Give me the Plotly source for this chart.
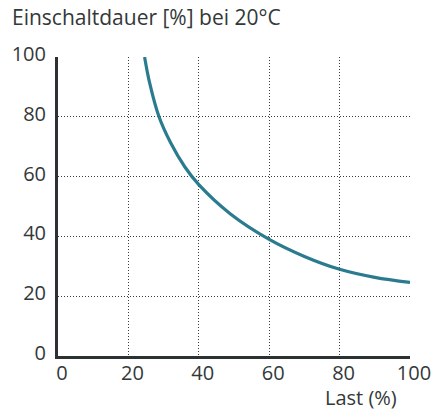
import plotly.graph_objects as go

# Duty cycle curve: load (%) vs. duty cycle (%) at 20 °C
last = [24.6, 26.0, 28.7, 32.0, 36.0, 40.0, 49.0, 60.0, 70.0, 80.0, 90.0, 100.0]
einschaltdauer = [100.0, 91.5, 80.0, 71.3, 63.3, 57.3, 47.5, 39.0, 33.3, 29.0, 26.3, 24.6]

x_ticks = [0, 20, 40, 60, 80, 100]
y_ticks = [0, 20, 40, 60, 80, 100]

font_family = "Open Sans, Noto Sans, sans-serif"
text_color = "#333838"
axis_color = "#2b3231"
grid_color = "#3a3a3a"
curve_color = "#2b7b8f"

fig = go.Figure()
fig.add_trace(go.Scatter(
    x=last, y=einschaltdauer, mode="lines",
    line=dict(color=curve_color, width=3.2, shape="spline", smoothing=1.0),
    hoverinfo="skip", showlegend=False,
))

axis_common = dict(
    range=[0, 100],
    showgrid=True, gridcolor=grid_color, gridwidth=1, griddash="1px,2px",
    zeroline=False,
    showline=True, linecolor=axis_color, linewidth=3,
    ticks="", tickfont=dict(family=font_family, size=20, color=text_color),
    fixedrange=True,
)

fig.update_xaxes(tickvals=x_ticks, ticktext=[str(v) for v in x_ticks],
                 ticklabelshift=4, ticklabelstandoff=-3, **axis_common)
fig.update_yaxes(tickvals=y_ticks, ticktext=[str(v) for v in y_ticks],
                 ticklabelshift=-3, ticklabelstandoff=5, **axis_common)

fig.update_layout(
    width=443, height=412,
    margin=dict(l=53, r=29, t=57, b=56),
    paper_bgcolor="white", plot_bgcolor="white",
    title=dict(text="Einschaltdauer [%] bei 20°C",
               font=dict(family=font_family, size=21, color=text_color),
               xref="container", yref="container",
               x=12 / 443, xanchor="left",
               y=1 - 17.5 / 412, yanchor="middle"),
    annotations=[dict(
        text="Last (%)", xref="paper", yref="paper",
        x=(403 - 53) / (443 - 53 - 29), y=-(397 - 356) / (412 - 57 - 56),
        xanchor="right", yanchor="middle", showarrow=False,
        font=dict(family=font_family, size=20, color=text_color),
    )],
)

fig.write_html("out.html")
